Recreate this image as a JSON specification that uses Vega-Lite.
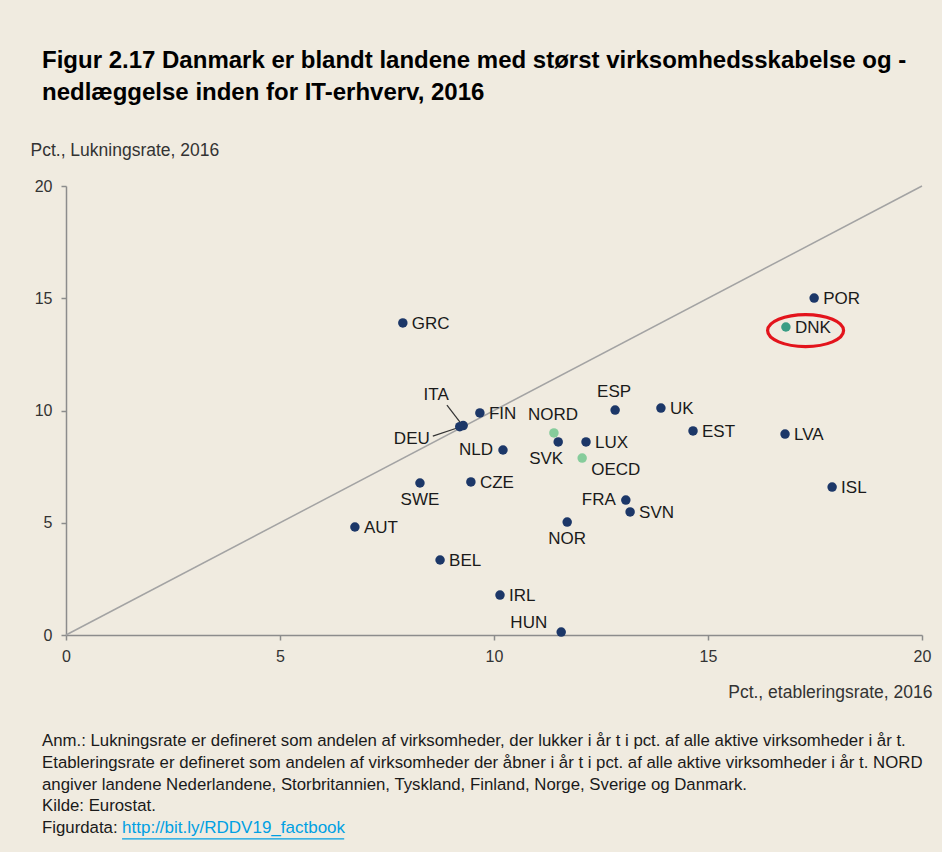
{
  "$schema": "https://vega.github.io/schema/vega-lite/v6.json",
  "autosize": {"type": "none"},
  "width": 856,
  "height": 449,
  "padding": {"left": 66, "top": 186, "right": 20, "bottom": 217},
  "background": "#f0ebe0",
  "config": {
    "view": {"stroke": null},
    "font": "Liberation Sans",
    "text": {"font": "Liberation Sans", "fontSize": 17, "color": "#1a1a1a"}
  },
  "title": {
    "text": ["Figur 2.17 Danmark er blandt landene med størst virksomhedsskabelse og -", "nedlæggelse inden for IT-erhverv, 2016"],
    "anchor": "start",
    "frame": "group",
    "dx": -24,
    "offset": 36,
    "font": "Liberation Sans",
    "fontSize": 24,
    "fontWeight": "bold",
    "color": "#000000",
    "lineHeight": 32
  },
  "datasets": {
    "points": [
      {"country": "POR", "etab": 17.48, "luk": 15.01, "group": "land"},
      {"country": "DNK", "etab": 16.82, "luk": 13.72, "group": "Danmark"},
      {"country": "GRC", "etab": 7.87, "luk": 13.9, "group": "land"},
      {"country": "ITA", "etab": 9.28, "luk": 9.33, "group": "land"},
      {"country": "DEU", "etab": 9.2, "luk": 9.28, "group": "land"},
      {"country": "FIN", "etab": 9.67, "luk": 9.89, "group": "land"},
      {"country": "ESP", "etab": 12.83, "luk": 10.02, "group": "land"},
      {"country": "UK", "etab": 13.9, "luk": 10.11, "group": "land"},
      {"country": "EST", "etab": 14.65, "luk": 9.09, "group": "land"},
      {"country": "LVA", "etab": 16.8, "luk": 8.95, "group": "land"},
      {"country": "NORD", "etab": 11.4, "luk": 9.0, "group": "gennemsnit"},
      {"country": "SVK", "etab": 11.5, "luk": 8.6, "group": "land"},
      {"country": "LUX", "etab": 12.15, "luk": 8.6, "group": "land"},
      {"country": "OECD", "etab": 12.06, "luk": 7.88, "group": "gennemsnit"},
      {"country": "NLD", "etab": 10.21, "luk": 8.24, "group": "land"},
      {"country": "SWE", "etab": 8.27, "luk": 6.77, "group": "land"},
      {"country": "CZE", "etab": 9.46, "luk": 6.82, "group": "land"},
      {"country": "ISL", "etab": 17.9, "luk": 6.59, "group": "land"},
      {"country": "FRA", "etab": 13.08, "luk": 6.01, "group": "land"},
      {"country": "SVN", "etab": 13.18, "luk": 5.48, "group": "land"},
      {"country": "NOR", "etab": 11.71, "luk": 5.03, "group": "land"},
      {"country": "AUT", "etab": 6.75, "luk": 4.81, "group": "land"},
      {"country": "BEL", "etab": 8.74, "luk": 3.34, "group": "land"},
      {"country": "IRL", "etab": 10.14, "luk": 1.78, "group": "land"},
      {"country": "HUN", "etab": 11.57, "luk": 0.13, "group": "land"}
    ],
    "diagonal": [{"x0": 0, "y0": 0, "x1": 20, "y1": 20}],
    "leaders": [
      {"country": "ITA", "x0": 8.9, "y0": 10.24, "x1": 9.21, "y1": 9.47},
      {"country": "DEU", "x0": 8.57, "y0": 8.86, "x1": 9.14, "y1": 9.22}
    ],
    "single": [{}]
  },
  "layer": [
    {
      "data": {"name": "diagonal"},
      "mark": {"type": "rule", "color": "#a3a3a3", "strokeWidth": 1.5},
      "encoding": {
        "x": {"field": "x0", "type": "quantitative", "scale": {"domain": [0, 20]},
          "axis": {
            "values": [0, 5, 10, 15, 20], "grid": false, "tickSize": 5, "tickColor": "#8c8c8c", "tickWidth": 1.5,
            "domainColor": "#8c8c8c", "domainWidth": 1.5,
            "labelFont": "Liberation Sans", "labelFontSize": 16, "labelColor": "#333333", "labelPadding": 8,
            "labelFlush": false,
            "title": "Pct., etableringsrate, 2016", "titleFont": "Liberation Sans", "titleFontSize": 17.5,
            "titleFontWeight": "normal", "titleColor": "#333333", "titleAlign": "right", "titleAnchor": null,
            "titleBaseline": "middle", "titleX": 866, "titleY": 57
          }},
        "y": {"field": "y0", "type": "quantitative", "scale": {"domain": [0, 20]},
          "axis": {
            "values": [0, 5, 10, 15, 20], "grid": false, "tickSize": 5, "tickColor": "#8c8c8c", "tickWidth": 1.5,
            "domainColor": "#8c8c8c", "domainWidth": 1.5,
            "labelFont": "Liberation Sans", "labelFontSize": 16, "labelColor": "#333333", "labelPadding": 9,
            "labelFlush": false,
            "title": "Pct., Lukningsrate, 2016", "titleFont": "Liberation Sans", "titleFontSize": 17.5,
            "titleFontWeight": "normal", "titleColor": "#333333", "titleAngle": 0, "titleAlign": "left",
            "titleBaseline": "middle", "titleX": -36, "titleY": -36
          }},
        "x2": {"field": "x1"},
        "y2": {"field": "y1"}
      }
    },
    {
      "data": {"name": "leaders"},
      "mark": {"type": "rule", "color": "#333333", "strokeWidth": 1.2},
      "encoding": {
        "x": {"field": "x0", "type": "quantitative"},
        "y": {"field": "y0", "type": "quantitative"},
        "x2": {"field": "x1"},
        "y2": {"field": "y1"}
      }
    },
    {
      "data": {"name": "points"},
      "mark": {"type": "point", "filled": true, "opacity": 1, "size": 90},
      "encoding": {
        "x": {"field": "etab", "type": "quantitative"},
        "y": {"field": "luk", "type": "quantitative"},
        "color": {"field": "group", "type": "nominal",
          "scale": {"domain": ["land", "Danmark", "gennemsnit"], "range": ["#1c3768", "#3a9d85", "#86cc9b"]},
          "legend": null}
      }
    },
    {
      "data": {"name": "points"},
      "transform": [{"filter": {"field": "country", "oneOf": ["POR", "DNK", "GRC", "FIN", "UK", "EST", "LVA", "LUX", "CZE", "ISL", "SVN", "AUT", "BEL", "IRL"]}}],
      "mark": {"type": "text", "align": "left", "baseline": "middle", "dx": 9, "dy": 1},
      "encoding": {
        "x": {"field": "etab", "type": "quantitative"},
        "y": {"field": "luk", "type": "quantitative"},
        "text": {"field": "country"}
      }
    },
    {
      "data": {"name": "points"},
      "transform": [{"filter": {"field": "country", "oneOf": ["ESP", "NORD"]}}],
      "mark": {"type": "text", "align": "center", "baseline": "middle", "dx": -1, "dy": -18},
      "encoding": {
        "x": {"field": "etab", "type": "quantitative"},
        "y": {"field": "luk", "type": "quantitative"},
        "text": {"field": "country"}
      }
    },
    {
      "data": {"name": "points"},
      "transform": [{"filter": {"field": "country", "oneOf": ["NOR", "SWE"]}}],
      "mark": {"type": "text", "align": "center", "baseline": "middle", "dy": 17},
      "encoding": {
        "x": {"field": "etab", "type": "quantitative"},
        "y": {"field": "luk", "type": "quantitative"},
        "text": {"field": "country"}
      }
    },
    {
      "data": {"name": "points"},
      "transform": [{"filter": {"field": "country", "oneOf": ["OECD"]}}],
      "mark": {"type": "text", "align": "left", "baseline": "middle", "dx": 9, "dy": 12},
      "encoding": {
        "x": {"field": "etab", "type": "quantitative"},
        "y": {"field": "luk", "type": "quantitative"},
        "text": {"field": "country"}
      }
    },
    {
      "data": {"name": "points"},
      "transform": [{"filter": {"field": "country", "oneOf": ["SVK"]}}],
      "mark": {"type": "text", "align": "right", "baseline": "middle", "dx": 5, "dy": 17},
      "encoding": {
        "x": {"field": "etab", "type": "quantitative"},
        "y": {"field": "luk", "type": "quantitative"},
        "text": {"field": "country"}
      }
    },
    {
      "data": {"name": "points"},
      "transform": [{"filter": {"field": "country", "oneOf": ["NLD", "FRA"]}}],
      "mark": {"type": "text", "align": "right", "baseline": "middle", "dx": -10, "dy": 0},
      "encoding": {
        "x": {"field": "etab", "type": "quantitative"},
        "y": {"field": "luk", "type": "quantitative"},
        "text": {"field": "country"}
      }
    },
    {
      "data": {"name": "points"},
      "transform": [{"filter": {"field": "country", "oneOf": ["HUN"]}}],
      "mark": {"type": "text", "align": "right", "baseline": "middle", "dx": -14, "dy": -9},
      "encoding": {
        "x": {"field": "etab", "type": "quantitative"},
        "y": {"field": "luk", "type": "quantitative"},
        "text": {"field": "country"}
      }
    },
    {
      "data": {"name": "points"},
      "transform": [{"filter": {"field": "country", "oneOf": ["ITA"]}}],
      "mark": {"type": "text", "align": "center", "baseline": "middle", "dx": -27, "dy": -31},
      "encoding": {
        "x": {"field": "etab", "type": "quantitative"},
        "y": {"field": "luk", "type": "quantitative"},
        "text": {"field": "country"}
      }
    },
    {
      "data": {"name": "points"},
      "transform": [{"filter": {"field": "country", "oneOf": ["DEU"]}}],
      "mark": {"type": "text", "align": "right", "baseline": "middle", "dx": -30, "dy": 12},
      "encoding": {
        "x": {"field": "etab", "type": "quantitative"},
        "y": {"field": "luk", "type": "quantitative"},
        "text": {"field": "country"}
      }
    },
    {
      "data": {"name": "single"},
      "mark": {"type": "point", "shape": "M-1,0C-1,-0.232,-0.552,-0.42,0,-0.42C0.552,-0.42,1,-0.232,1,0C1,0.232,0.552,0.42,0,0.42C-0.552,0.42,-1,0.232,-1,0Z",
        "filled": false, "stroke": "#e3141c", "strokeWidth": 3.2, "size": 5776, "opacity": 1},
      "encoding": {
        "x": {"datum": 17.28, "type": "quantitative"},
        "y": {"datum": 13.56, "type": "quantitative"}
      }
    },
    {
      "data": {"name": "single"},
      "mark": {"type": "text", "align": "left", "baseline": "top", "fontSize": 16.8, "lineHeight": 21.6, "color": "#1a1a1a",
        "text": ["Anm.: Lukningsrate er defineret som andelen af virksomheder, der lukker i år t i pct. af alle aktive virksomheder i år t.",
          "Etableringsrate er defineret som andelen af virksomheder der åbner i år t i pct. af alle aktive virksomheder i år t. NORD",
          "angiver landene Nederlandene, Storbritannien, Tyskland, Finland, Norge, Sverige og Danmark.",
          "Kilde: Eurostat.",
          "Figurdata:"]},
      "encoding": {
        "x": {"datum": -0.56, "type": "quantitative"},
        "y": {"datum": -4.38, "type": "quantitative"}
      }
    },
    {
      "data": {"name": "single"},
      "mark": {"type": "text", "align": "left", "baseline": "top", "fontSize": 17, "color": "#00a0e3", "text": "http://bit.ly/RDDV19_factbook"},
      "encoding": {
        "x": {"datum": 1.31, "type": "quantitative"},
        "y": {"datum": -8.23, "type": "quantitative"}
      }
    },
    {
      "data": {"name": "single"},
      "mark": {"type": "rule", "color": "#00a0e3", "strokeWidth": 1.2},
      "encoding": {
        "x": {"datum": 1.31, "type": "quantitative"},
        "x2": {"datum": 6.5},
        "y": {"datum": -9.08, "type": "quantitative"}
      }
    }
  ]
}
